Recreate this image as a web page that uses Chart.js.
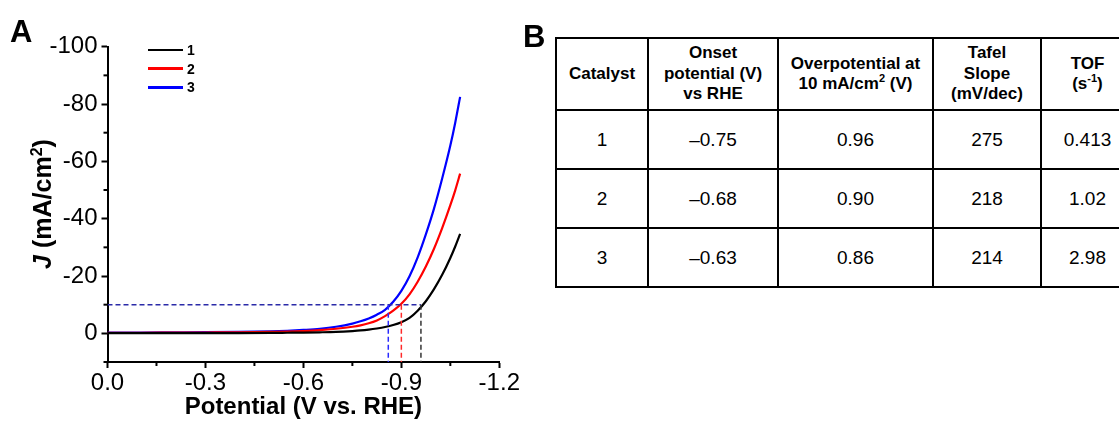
<!DOCTYPE html>
<html>
<head>
<meta charset="utf-8">
<title>LSV curves and catalyst table</title>
<script src="https://cdn.jsdelivr.net/npm/chart.js@4.4.1/dist/chart.umd.min.js"></script>
<style>
  html, body { margin: 0; padding: 0; background: #fff; }
  body {
    width: 1119px; height: 426px; overflow: hidden; position: relative;
    font-family: "Liberation Sans", Arial, sans-serif; color: #000;
  }
  #chartBox { position: absolute; left: 0; top: 0; width: 540px; height: 426px; }
  .panel { position: absolute; font-weight: bold; font-size: 31px; line-height: 31px; }
  #ytitle {
    position: absolute; left: 42px; top: 204px;
    transform: translate(-50%, -50%) rotate(-90deg);
    font-weight: bold; font-size: 25px; line-height: 28px; white-space: nowrap;
  }
  #ytitle sup { font-size: 16px; line-height: 0; vertical-align: 9px; }
  #legend { position: absolute; left: 148px; top: 40.6px; }
  .lg { display: flex; align-items: center; height: 18.7px; }
  .lg .ln { width: 35px; height: 2.5px; margin-right: 4px; }
  .lg .tx { font-weight: bold; font-size: 14px; line-height: 18px; }
  #tbl {
    position: absolute; left: 555px; top: 37px; width: 580px;
    border-collapse: collapse; table-layout: fixed;
  }
  #tbl th, #tbl td {
    border: 2px solid #000; text-align: center; vertical-align: middle; padding: 0;
  }
  #tbl th { font-size: 17px; line-height: 20.5px; font-weight: bold; height: 70px; }
  #tbl td { font-size: 19px; height: 57px; }
  #tbl sup { font-size: 11px; line-height: 0; }
</style>
</head>
<body>
<div id="chartBox"><canvas id="lsvChart"></canvas></div>
<div class="panel" style="left:10px; top:16px;">A</div>
<div class="panel" style="left:523px; top:21px;">B</div>
<div id="ytitle"><i>J</i> (mA/cm<sup>2</sup>)</div>
<div id="legend"></div>
<table id="tbl">
  <colgroup>
    <col style="width:92px"><col style="width:130px"><col style="width:155px"><col style="width:108px"><col style="width:93px">
  </colgroup>
  <thead>
    <tr>
      <th>Catalyst</th>
      <th>Onset<br>potential (V)<br>vs RHE</th>
      <th>Overpotential at<br>10 mA/cm<sup>2</sup> (V)</th>
      <th>Tafel<br>Slope<br>(mV/dec)</th>
      <th>TOF<br>(s<sup>-1</sup>)</th>
    </tr>
  </thead>
  <tbody id="tblBody"></tbody>
</table>

<script>
// --- data ---
const potential = [0, -0.1, -0.2, -0.3, -0.4, -0.5, -0.55, -0.6, -0.65, -0.7,
  -0.75, -0.775, -0.8, -0.825, -0.85, -0.875, -0.9, -0.925, -0.95, -0.975,
  -1.0, -1.025, -1.05, -1.065, -1.08];
const currentCat1 = [-0.1, -0.1, -0.1, -0.1, -0.1, -0.15, -0.2, -0.25, -0.35, -0.5,
  -0.8, -1.0, -1.3, -1.7, -2.2, -2.9, -3.9, -5.4, -7.9, -11.2,
  -15.4, -20.4, -26.3, -30.3, -34.7];
const currentCat2 = [-0.2, -0.2, -0.25, -0.3, -0.35, -0.5, -0.6, -0.8, -1.1, -1.6,
  -2.3, -2.8, -3.5, -4.5, -6.0, -7.9, -10.3, -13.6, -18.0, -23.3,
  -29.5, -36.7, -44.7, -49.9, -55.7];
const currentCat3 = [-0.3, -0.3, -0.35, -0.4, -0.5, -0.7, -0.9, -1.2, -1.6, -2.3,
  -3.4, -4.2, -5.2, -6.5, -8.2, -11.0, -14.8, -19.9, -26.5, -34.5,
  -43.5, -54, -65.5, -73.5, -82.5];

const catalysts = ["1", "2", "3"];
const onsetPotential = [-0.75, -0.68, -0.63];
const overpotential = [0.96, 0.90, 0.86];
const tafelSlope = [275, 218, 214];
const tof = [0.413, 1.02, 2.98];

const refCurrent = -10;   // 10 mA/cm2 guide line
const xTickLabels = ["0.0", "-0.3", "-0.6", "-0.9", "-1.2"];
const yTickLabels = ["-100", "-80", "-60", "-40", "-20", "0"];

const seriesColors = ["#000000", "#ff0000", "#0000ff"];
const guideColors = ["#333333", "#ff2a2a", "#2a2aff"];
const FONT = "'Liberation Sans', Arial, sans-serif";

// table
const tbody = document.getElementById("tblBody");
catalysts.forEach((c, i) => {
  const tr = document.createElement("tr");
  const cells = [
    c,
    "\u2013" + Math.abs(onsetPotential[i]).toFixed(2),
    overpotential[i].toFixed(2),
    String(tafelSlope[i]),
    String(tof[i])
  ];
  cells.forEach(t => {
    const td = document.createElement("td");
    td.textContent = t;
    tr.appendChild(td);
  });
  tbody.appendChild(tr);
});

// legend
const legend = document.getElementById("legend");
catalysts.forEach((c, i) => {
  const row = document.createElement("div");
  row.className = "lg";
  row.innerHTML = '<span class="ln" style="background:' + seriesColors[i] + '"></span><span class="tx">' + c + '</span>';
  legend.appendChild(row);
});

const curves = [currentCat1, currentCat2, currentCat3];
const datasets = curves.map((cur, i) => ({
  label: catalysts[i],
  data: potential.map((v, k) => ({ x: v, y: cur[k] })),
  borderColor: seriesColors[i],
  borderWidth: 2.2,
  pointRadius: 0,
  showLine: true,
  cubicInterpolationMode: "monotone"
}));

// dashed guide lines at 10 mA/cm2
const yBottom = 10;
datasets.unshift({
  label: "ref",
  data: [{ x: 0, y: refCurrent }, { x: -overpotential[0], y: refCurrent }],
  borderColor: "#2a2aa8",
  borderWidth: 1.5,
  borderDash: [5, 3],
  pointRadius: 0,
  showLine: true
});
overpotential.forEach((eta, i) => {
  datasets.unshift({
    label: "eta" + i,
    data: [{ x: -eta, y: refCurrent }, { x: -eta, y: yBottom }],
    borderColor: guideColors[i],
    borderWidth: 1.5,
    borderDash: [5, 3],
    pointRadius: 0,
    showLine: true
  });
});

// short minor ticks
const minorTicks = {
  id: "minorTicks",
  afterDraw(chart) {
    const { ctx, scales: { x, y } } = chart;
    ctx.save();
    ctx.strokeStyle = "#000";
    ctx.lineWidth = 2;
    x.ticks.forEach(t => {
      if (t.label !== "") return;
      const px = x.getPixelForValue(t.value);
      ctx.beginPath(); ctx.moveTo(px, y.bottom); ctx.lineTo(px, y.bottom + 4); ctx.stroke();
    });
    y.ticks.forEach(t => {
      if (t.label !== "") return;
      const py = y.getPixelForValue(t.value);
      ctx.beginPath(); ctx.moveTo(x.left, py); ctx.lineTo(x.left - 4, py); ctx.stroke();
    });
    ctx.restore();
  }
};

new Chart(document.getElementById("lsvChart").getContext("2d"), {
  type: "scatter",
  data: { datasets: datasets },
  plugins: [minorTicks],
  options: {
    responsive: true,
    maintainAspectRatio: false,
    animation: false,
    layout: { padding: { left: 0, right: 40.7, top: 46.7, bottom: 0 } },
    plugins: { legend: { display: false }, tooltip: { enabled: false } },
    scales: {
      x: {
        type: "linear",
        position: "bottom",
        min: -1.2,
        max: 0,
        reverse: true,
        afterFit: s => { s.height = 64; },
        border: { display: true, color: "#000", width: 2 },
        grid: {
          drawOnChartArea: false,
          drawTicks: true,
          tickLength: 6,
          tickWidth: 2,
          tickColor: c => (c.tick && c.tick.label !== "" ? "#000" : "rgba(0,0,0,0)")
        },
        ticks: {
          stepSize: 0.15,
          autoSkip: false,
          maxRotation: 0,
          padding: 1,
          color: "#000",
          font: { family: FONT, size: 24 },
          callback: v => {
            const k = Math.round(-v / 0.15);
            return k % 2 === 0 ? xTickLabels[k / 2] : "";
          }
        },
        title: {
          display: true,
          text: "Potential (V vs. RHE)",
          color: "#000",
          font: { family: FONT, size: 24, weight: "bold" },
          padding: { top: 0, bottom: 4 }
        }
      },
      y: {
        type: "linear",
        position: "left",
        min: -100,
        max: 10,
        reverse: true,
        afterFit: s => { s.width = 107.5; },
        border: { display: true, color: "#000", width: 2 },
        grid: {
          drawOnChartArea: false,
          drawTicks: true,
          tickLength: 6,
          tickWidth: 2,
          tickColor: c => (c.tick && c.tick.label !== "" ? "#000" : "rgba(0,0,0,0)")
        },
        ticks: {
          stepSize: 10,
          autoSkip: false,
          padding: 4,
          color: "#000",
          font: { family: FONT, size: 24 },
          callback: v => (yTickLabels.includes(String(v)) ? String(v) : "")
        }
      }
    }
  }
});
</script>
</body>
</html>
